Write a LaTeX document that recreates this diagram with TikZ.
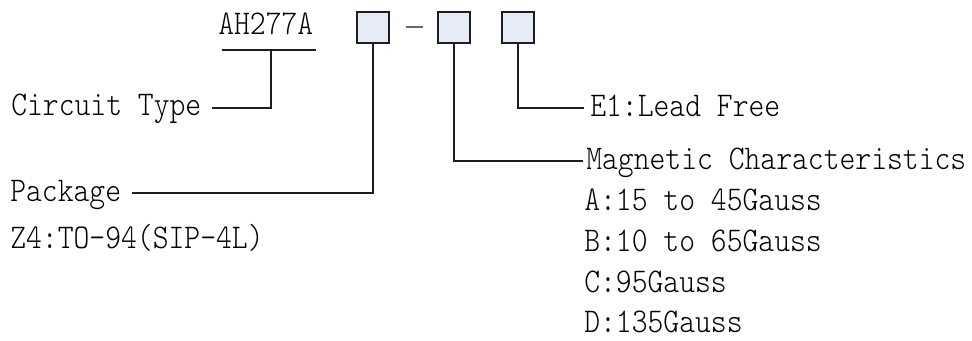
\documentclass[tikz,border=0pt]{standalone}
\usepackage{fontspec}
\setmonofont{Latin Modern Mono Light}[FakeStretch=0.87]
\definecolor{boxfill}{RGB}{229,235,247}
\definecolor{linecol}{RGB}{30,30,30}
\begin{document}
\begin{tikzpicture}[x=0.75pt,y=-0.75pt,
  lbl/.style={font=\ttfamily\fontsize{26}{30}\selectfont, anchor=base west, inner sep=0pt, text=black},
  cbox/.style={draw=linecol, fill=boxfill, line width=0.8pt, minimum width=24pt, minimum height=23.25pt, inner sep=0pt},
  conn/.style={draw=linecol, line width=0.8pt},
  dashmark/.style={draw=black!60, line width=1pt}]
\useasboundingbox (0,0) rectangle (972,340);
% code boxes
\node[cbox] (b1) at (373,27.5) {};
\node[cbox] (b2) at (454,27.5) {};
\node[cbox] (b3) at (518,27.5) {};
\coordinate (dl) at (406,27);
\coordinate (dr) at (423,27);
\draw[dashmark] (dl) -- (dr);
% labels
\node[lbl] (ah) at (218,34) {AH277A};
\node[lbl] (ct) at (11,115) {Circuit Type};
\node[lbl] (pk) at (10,201) {Package};
\node[lbl] (z4) at (10,248) {Z4:TO-94(SIP-4L)};
\node[lbl] (e1) at (590,116) {E1:Lead Free};
\node[lbl] (mc) at (586,169) {Magnetic Characteristics};
\node[lbl] (ma) at (584,210) {A:15 to 45Gauss};
\node[lbl] (mb) at (584,251) {B:10 to 65Gauss};
\node[lbl] (mcc) at (584,292) {C:95Gauss};
\node[lbl] (md) at (584,332) {D:135Gauss};
% connector end points
\coordinate (ulw) at (222,50);
\coordinate (ule) at (316,50);
\coordinate (ulm) at (271,50);
\coordinate (ctend) at (212,108);
\coordinate (pkend) at (132,193);
\coordinate (mcend) at (583,161);
\coordinate (e1end) at (584,108);
% connectors
\draw[conn] (ulw) -- (ule);
\draw[conn] (ulm) |- (ctend);
\draw[conn] (b1.south) |- (pkend);
\draw[conn] (b2.south) |- (mcend);
\draw[conn] (b3.south) |- (e1end);
\end{tikzpicture}
\end{document}
